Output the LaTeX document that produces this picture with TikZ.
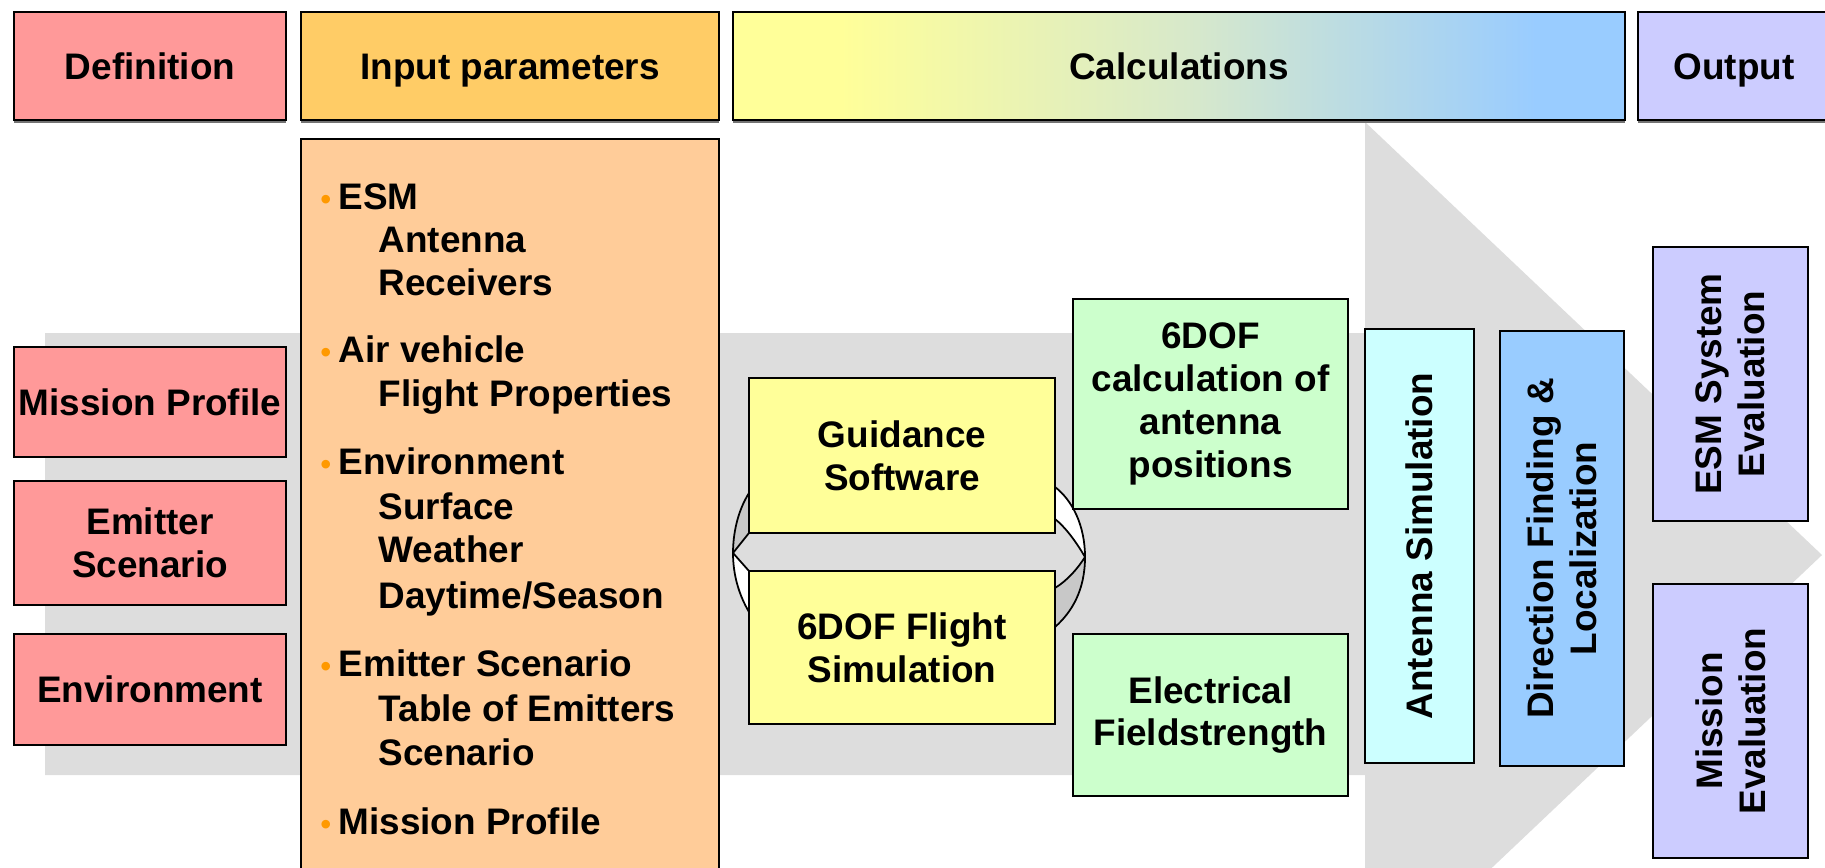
\documentclass[tikz,border=0pt]{standalone}
\usepackage{fontspec}
\setmainfont{Liberation Sans}
\usetikzlibrary{shadows}
\definecolor{defpink}{HTML}{FF9999}
\definecolor{inporange}{HTML}{FFCC66}
\definecolor{inplight}{HTML}{FFCC99}
\definecolor{calcyellow}{HTML}{FFFF99}
\definecolor{calcmid}{HTML}{D6E8CC}
\definecolor{calcblue}{HTML}{99CCFF}
\definecolor{outpurple}{HTML}{CCCCFF}
\definecolor{yellowbox}{HTML}{FFFF99}
\definecolor{greenbox}{HTML}{CCFFCC}
\definecolor{cyanbox}{HTML}{CCFFFF}
\definecolor{bluebox}{HTML}{99CCFF}
\definecolor{arrowgray}{HTML}{DDDDDD}
\definecolor{ringgray}{HTML}{C8C8C8}
\definecolor{bulletor}{HTML}{FF9900}
% the path covers 25bp to 75bp of the shading
\pgfdeclarehorizontalshading{calcshade}{100bp}{color(0bp)=(calcyellow); color(31bp)=(calcyellow);
  color(51bp)=(calcmid); color(70bp)=(calcblue); color(100bp)=(calcblue)}
\newcommand{\ibul}{\makebox[5.1pt][l]{\textcolor{bulletor}{\fontsize{8.5}{8.5}\selectfont •}}}
\tikzset{
  box/.style={draw, line width=0.6pt, inner sep=0pt, align=center,
    font=\bfseries\fontsize{10.5}{12.2}\selectfont},
  head/.style={box, minimum height=1.08cm, text height=7.6pt, text depth=0pt,
    drop shadow={shadow xshift=0pt, shadow yshift=-0.9pt, fill=black!55, opacity=1}},
  item/.style={anchor=base west, inner sep=0pt, font=\bfseries\fontsize{10.5}{12.2}\selectfont},
  ring/.style={draw=black, line width=0.5pt}
}
\begin{document}
\begin{tikzpicture}[x=0.01cm, y=-0.01cm]
\useasboundingbox (0,0) rectangle (1825,867);
\clip (0,0) rectangle (1825,867);

% big arrow in the back
\fill[arrowgray] (45,333) -- (1365,333) -- (1365,122) -- (1822,555)
  -- (1365,988) -- (1365,775) -- (45,775) -- cycle;

% headers
\node[head, fill=defpink, minimum width=2.72cm] (def) at (150,66) {Definition};
\node[head, fill=inporange, minimum width=4.18cm] (inp) at (510,66) {Input parameters};
\node[head, shading=calcshade, minimum width=8.92cm] (calc) at (1179,66) {Calculations};
\node[head, fill=outpurple, minimum width=1.92cm] (out) at (1734,66) {Output};

% definition
\node[box, fill=defpink, minimum width=2.72cm, minimum height=1.10cm] (mp) at (150,402) {Mission Profile};
\node[box, fill=defpink, minimum width=2.72cm, minimum height=1.24cm] (es) at (150,543) {Emitter\\Scenario};
\node[box, fill=defpink, minimum width=2.72cm, minimum height=1.11cm] (env) at (150,689.5) {Environment};

% input parameters
\node[box, fill=inplight, minimum width=4.18cm, minimum height=7.42cm] (par) at (510,510) {};
\foreach \y/\t in {209/ESM, 362/Air vehicle, 474/Environment, 676/Emitter Scenario, 834/Mission Profile}
  \node[item] (m\y) at (320,\y) {\ibul\t};
\foreach \y/\t in {252/Antenna, 295/Receivers, 406/Flight Properties, 519/Surface, 562/Weather,
    608/{Daytime/Season}, 721/Table of Emitters, 765/Scenario}
  \node[item] (s\y) at (378,\y) {\t};

% loop between guidance and flight simulation
\filldraw[ring, fill=ringgray] (749,493) .. controls (737,512) and (733,535) .. (733,553) -- (749,533) -- cycle;
\filldraw[ring, fill=white] (733,553) .. controls (733,575) and (739,595) .. (749,612) -- (749,571) -- cycle;
\filldraw[ring, fill=white] (1055,487) .. controls (1072,500) and (1085,525) .. (1085,557)
  .. controls (1075,540) and (1065,527) .. (1055,519) -- cycle;
\filldraw[ring, fill=ringgray] (1085,557) .. controls (1085,590) and (1072,612) .. (1055,627)
  -- (1055,588) .. controls (1068,580) and (1078,568) .. (1085,557) -- cycle;

% calculations
\node[box, fill=yellowbox, minimum width=3.06cm, minimum height=1.55cm] (gs) at (902,455.5) {Guidance\\Software};
\node[box, fill=yellowbox, minimum width=3.06cm, minimum height=1.53cm] (fs) at (902,647.5) {6DOF Flight\\Simulation};
\node[box, fill=greenbox, minimum width=2.75cm, minimum height=2.10cm] (cap) at (1210.5,404) {6DOF\\calculation of\\antenna\\positions};
\node[box, fill=greenbox, minimum width=2.75cm, minimum height=1.62cm] (ef) at (1210.5,715) {Electrical\\Fieldstrength};
\node[box, fill=cyanbox, rotate=90, minimum width=4.34cm, minimum height=1.09cm] (as) at (1419.5,546) {Antenna Simulation};
\node[box, fill=bluebox, rotate=90, minimum width=4.35cm, minimum height=1.24cm] (df) at (1562,548.5) {Direction Finding \&\\Localization};

% output
\node[box, fill=outpurple, rotate=90, minimum width=2.74cm, minimum height=1.55cm] (ese) at (1730.5,384) {ESM System\\Evaluation};
\node[box, fill=outpurple, rotate=90, minimum width=2.74cm, minimum height=1.55cm] (me) at (1730.5,721) {Mission\\Evaluation};

\end{tikzpicture}
\end{document}
